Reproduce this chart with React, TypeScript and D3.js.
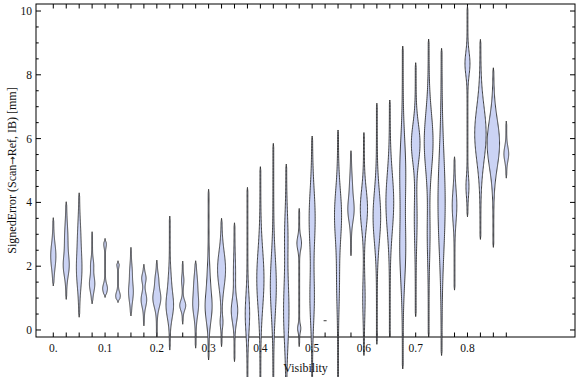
import React from "react";
import * as d3 from "d3";

// Category positions (Visibility)
const visibility = [
  0, 0.025, 0.05, 0.075, 0.1, 0.125, 0.15, 0.175, 0.2, 0.225, 0.25, 0.275,
  0.3, 0.325, 0.35, 0.375, 0.4, 0.425, 0.45, 0.475, 0.5, 0.525, 0.55, 0.575,
  0.6, 0.625, 0.65, 0.675, 0.7, 0.725, 0.75, 0.775, 0.8, 0.825, 0.85, 0.875,
];

// Minimum and maximum signed error per category
const violinMin = [
  1.38, 0.96, 0.4, 0.82, 1.02, 0.86, 0.44, 0.13, -0.21, -0.63, 0.18, -0.57,
  -0.94, -0.52, -0.99, -1.7, -1.7, -1.7, -1.7, -0.52, -1.7, 0.29, -1.7, 2.33,
  -0.8, -0.45, -0.21, -1.22, 0.42, -0.21, -0.8, 1.25, 3.55, 2.84, 2.59, 4.76,
];
const violinMax = [
  3.52, 4.02, 4.3, 3.08, 2.87, 2.17, 2.59, 2.06, 2.19, 3.57, 2.16, 2.17,
  4.41, 3.5, 3.36, 4.47, 5.12, 5.85, 5.2, 3.81, 6.08, 0.29, 6.27, 5.62,
  6.19, 7.11, 7.21, 8.9, 8.38, 9.12, 8.83, 5.43, 10.15, 9.11, 8.22, 6.55,
];

// Density modes per category: [center, relative density, spread]
const violinModes: number[][][] = [
  [[2.32, 2.2, 0.38]],
  [[2.0, 2.4, 0.32], [2.85, 1.3, 0.45]],
  [[1.9, 2.3, 0.55], [3.0, 1.0, 0.5]],
  [[1.45, 2.3, 0.25], [2.05, 1.1, 0.18]],
  [[1.3, 2.0, 0.14], [2.68, 0.9, 0.1]],
  [[1.07, 1.9, 0.12], [2.05, 0.8, 0.08]],
  [[1.2, 2.0, 0.3], [1.85, 0.8, 0.22]],
  [[0.95, 2.4, 0.22], [1.62, 1.8, 0.15]],
  [[1.0, 3.6, 0.28], [1.6, 1.2, 0.2]],
  [[0.75, 3.2, 0.38], [1.5, 1.0, 0.4]],
  [[0.77, 2.6, 0.15], [1.55, 0.8, 0.15]],
  [[0.8, 2.5, 0.35], [1.5, 1.2, 0.3]],
  [[0.7, 2.9, 0.45], [1.6, 1.0, 0.5]],
  [[1.9, 3.6, 0.55], [0.25, 1.0, 0.18]],
  [[0.6, 2.8, 0.35], [1.8, 0.7, 0.5]],
  [[0.5, 1.8, 0.6]],
  [[1.6, 3.2, 0.9]],
  [[1.4, 2.6, 0.9]],
  [[0.6, 2.3, 1.0], [3.0, 1.2, 0.7]],
  [[2.72, 1.9, 0.2], [0.05, 1.2, 0.12]],
  [[3.5, 2.6, 0.9], [1.0, 1.8, 0.8]],
  [],
  [[3.6, 3.1, 0.8], [1.5, 1.0, 0.8]],
  [[3.75, 2.6, 0.35], [4.5, 1.0, 0.4]],
  [[3.8, 3.2, 0.6], [1.0, 0.8, 0.6]],
  [[3.55, 3.4, 0.8]],
  [[4.0, 3.5, 0.9]],
  [[5.0, 2.5, 1.0], [2.5, 2.5, 1.0]],
  [[5.85, 3.9, 0.6], [3.5, 1.0, 0.8]],
  [[5.9, 4.0, 0.9], [3.0, 1.0, 0.8]],
  [[4.0, 3.2, 1.5]],
  [[3.9, 1.9, 0.5]],
  [[8.35, 2.1, 0.35], [4.5, 1.1, 0.3]],
  [[6.15, 5.3, 0.85]],
  [[5.85, 5.8, 0.75]],
  [[5.52, 2.0, 0.22]],
];

const xTickValues = [0, 0.1, 0.2, 0.3, 0.4, 0.5, 0.6, 0.7, 0.8];
const xTickLabels = ["0.", "0.1", "0.2", "0.3", "0.4", "0.5", "0.6", "0.7", "0.8"];
const yTickValues = [0, 2, 4, 6, 8, 10];
const yTickLabels = ["0", "2", "4", "6", "8", "10"];
const yMinorValues = d3.range(0, 10.01, 0.5);

const W = 576;
const H = 377;
const left = 36;
const right = 575;
const top = 4;
const bottom = 337;

const FONT = "'Liberation Serif', 'DejaVu Serif', serif";

export default function App() {
  const x = d3.scaleLinear().domain([-0.0334, 1.0077]).range([left, right]);
  const y = d3.scaleLinear().domain([-0.22, 10.22]).range([bottom, top]);
  const w = d3.scaleLinear().domain([0, 6]).range([0, 6]);

  const violins = visibility.map((v, i) => {
    const lo = violinMin[i];
    const hi = violinMax[i];
    const modes = violinModes[i];
    const cx = x(v);
    if (hi - lo < 1e-6) {
      return { cx, point: y(lo), d: null as string | null };
    }
    const n = 160;
    const pts = d3.range(n + 1).map((k) => {
      const val = lo + ((hi - lo) * k) / n;
      let dens = 0;
      for (const [c, h, s] of modes) {
        dens += h * Math.exp(-((val - c) * (val - c)) / (2 * s * s));
      }
      const dEnd = Math.min(val - lo, hi - val);
      const taper = Math.min(1, dEnd / 0.12);
      dens = (dens + 0.4) * taper;
      return { val, dens };
    });
    const area = d3
      .area<{ val: number; dens: number }>()
      .y((p) => y(p.val))
      .x0((p) => cx - w(p.dens))
      .x1((p) => cx + w(p.dens));
    return { cx, point: null as number | null, d: area(pts) };
  });

  return (
    <div style={{ position: "fixed", left: 0, top: 0 }}>
      <svg width={W} height={H} style={{ display: "block", background: "#fff" }}>
        {/* frame */}
        <rect
          x={left}
          y={top}
          width={right - left}
          height={bottom - top}
          fill="none"
          stroke="#000"
          strokeWidth={1}
        />
        {/* x ticks */}
        {visibility.map((v, i) => (
          <g key={"xt" + i}>
            <line x1={x(v)} x2={x(v)} y1={bottom} y2={bottom - 4.5} stroke="#000" />
            <line x1={x(v)} x2={x(v)} y1={top} y2={top + 4.5} stroke="#000" />
          </g>
        ))}
        {/* y ticks */}
        {yMinorValues.map((v, i) => {
          const major = Math.abs(v % 2) < 1e-6;
          const len = major ? 5 : 2.7;
          return (
            <g key={"yt" + i}>
              <line x1={left} x2={left + len} y1={y(v)} y2={y(v)} stroke="#000" />
              <line x1={right} x2={right - len} y1={y(v)} y2={y(v)} stroke="#000" />
            </g>
          );
        })}
        {/* violins */}
        {violins.map((vi, i) =>
          vi.d ? (
            <path
              key={"v" + i}
              d={vi.d}
              fill="#cbd3f4"
              stroke="#2e2e2e"
              strokeOpacity={0.9}
              strokeWidth={1}
            />
          ) : (
            <line
              key={"v" + i}
              x1={vi.cx - 1.5}
              x2={vi.cx + 1.5}
              y1={vi.point as number}
              y2={vi.point as number}
              stroke="#3a3a3a"
              strokeWidth={1}
            />
          )
        )}
        {/* x tick labels */}
        {xTickValues.map((v, i) => (
          <text
            key={"xl" + i}
            x={x(v)}
            y={352}
            textAnchor="middle"
            fontFamily={FONT}
            fontSize={11.5}
            fill="#111"
          >
            {xTickLabels[i]}
          </text>
        ))}
        {/* y tick labels */}
        {yTickValues.map((v, i) => (
          <text
            key={"yl" + i}
            x={32}
            y={y(v) + 4}
            textAnchor="end"
            fontFamily={FONT}
            fontSize={11.5}
            fill="#111"
          >
            {yTickLabels[i]}
          </text>
        ))}
        {/* axis labels */}
        <text
          x={(left + right) / 2}
          y={372}
          textAnchor="middle"
          fontFamily={FONT}
          fontSize={12}
          fill="#111"
        >
          Visibility
        </text>
        <text
          transform={`translate(16, ${(top + bottom) / 2}) rotate(-90)`}
          textAnchor="middle"
          fontFamily={FONT}
          fontSize={12}
          fill="#111"
        >
          SignedError (Scan
          <tspan fontFamily="'DejaVu Sans', sans-serif" fontSize={10}>
            →
          </tspan>
          Ref, IB) [mm]
        </text>
      </svg>
    </div>
  );
}
